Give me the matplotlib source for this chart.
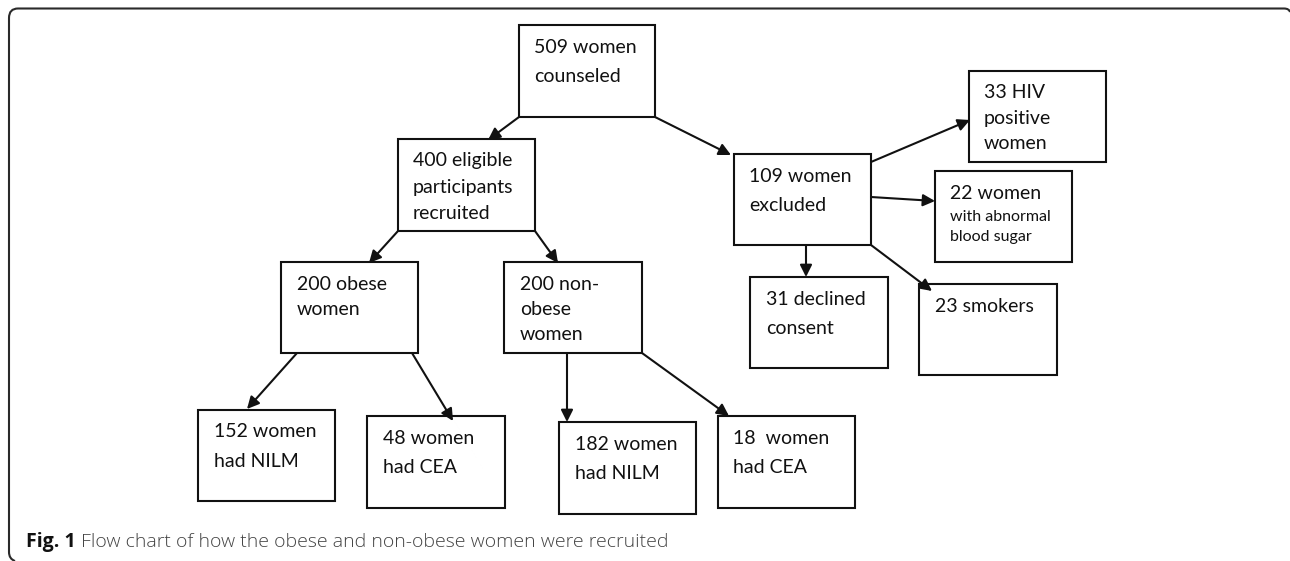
import matplotlib
matplotlib.use("Agg")
import matplotlib.pyplot as plt
from matplotlib.patches import Rectangle, PathPatch
from matplotlib.path import Path

# ---- data (flow chart content) ----
box_names = ["counseled", "eligible", "excluded", "hiv", "sugar", "obese", "nonobese",
             "declined", "smokers", "obese_nilm", "obese_cea", "nonobese_nilm", "nonobese_cea"]
box_counts = [509, 400, 109, 33, 22, 200, 200, 31, 23, 152, 48, 182, 18]
box_lines = [
    ["509 women", "counseled"],
    ["400 eligible", "participants", "recruited"],
    ["109 women", "excluded"],
    ["33 HIV", "positive", "women"],
    ["22 women", "with abnormal", "blood sugar"],
    ["200 obese", "women"],
    ["200 non-", "obese", "women"],
    ["31 declined", "consent"],
    ["23 smokers"],
    ["152 women", "had NILM"],
    ["48 women", "had CEA"],
    ["182 women", "had NILM"],
    ["18  women", "had CEA"],
]
edges = [("counseled", "eligible"), ("counseled", "excluded"), ("eligible", "obese"),
         ("eligible", "nonobese"), ("excluded", "hiv"), ("excluded", "sugar"),
         ("excluded", "declined"), ("excluded", "smokers"), ("obese", "obese_nilm"),
         ("obese", "obese_cea"), ("nonobese", "nonobese_nilm"), ("nonobese", "nonobese_cea")]
caption_bold = "Fig. 1"
caption_text = "Flow chart of how the obese and non-obese women were recruited"

# ---- layout (pixel coordinates) ----
box_rect = {  # x0, y0, x1, y1
    "counseled": (519, 25, 655, 117),
    "eligible": (398, 139, 535, 231),
    "excluded": (734, 154, 871, 245),
    "hiv": (969, 71, 1106, 162),
    "sugar": (935, 171, 1072, 262),
    "obese": (281, 262, 418, 353),
    "nonobese": (504, 262, 642, 353),
    "declined": (750, 277, 888, 368),
    "smokers": (919, 284, 1057, 375),
    "obese_nilm": (198, 410, 335, 501),
    "obese_cea": (367, 416, 505, 508),
    "nonobese_nilm": (559, 422, 696, 514),
    "nonobese_cea": (718, 416, 855, 508),
}
text_pos = {  # x, baselines
    "counseled": (534, [53, 82]),
    "eligible": (413, [166, 193, 219]),
    "excluded": (749, [182, 211]),
    "hiv": (984, [98, 124, 149]),
    "sugar": (950, [199, 221, 241]),
    "obese": (297, [290, 315]),
    "nonobese": (520, [290, 315, 340]),
    "declined": (766, [305, 334]),
    "smokers": (935, [312]),
    "obese_nilm": (214, [437, 467]),
    "obese_cea": (383, [444, 473]),
    "nonobese_nilm": (575, [450, 479]),
    "nonobese_cea": (733, [444, 473]),
}
arrow_xy = {  # start, end
    ("counseled", "eligible"): ((519, 117), (488, 140)),
    ("counseled", "excluded"): ((655, 117), (731, 155)),
    ("eligible", "obese"): ((398, 231), (369, 263)),
    ("eligible", "nonobese"): ((535, 231), (558, 263)),
    ("excluded", "hiv"): ((871, 162), (970, 120)),
    ("excluded", "sugar"): ((871, 197), (935, 201)),
    ("excluded", "declined"): ((806, 245), (806, 277)),
    ("excluded", "smokers"): ((871, 245), (932, 291)),
    ("obese", "obese_nilm"): ((297, 353), (247, 409)),
    ("obese", "obese_cea"): ((412, 353), (453, 421)),
    ("nonobese", "nonobese_nilm"): ((567, 353), (567, 422)),
    ("nonobese", "nonobese_cea"): ((642, 353), (729, 416)),
}

W, H = 1290, 561
fig = plt.figure(figsize=(W / 100, H / 100), dpi=100)
ax = fig.add_axes([0, 0, 1, 1])
ax.set_xlim(0, W)
ax.set_ylim(H, 0)
ax.axis("off")

# outer frame: top edge + left edge with rounded corners (open on right/bottom)
verts = [(15, 561), (9, 559), (9, 552), (9, 18), (9, 8.5), (18, 8.5),
         (1284, 8.5), (1289, 8.5), (1290, 12)]
codes = [Path.MOVETO, Path.CURVE3, Path.CURVE3, Path.LINETO, Path.CURVE3, Path.CURVE3,
         Path.LINETO, Path.CURVE3, Path.CURVE3]
ax.add_patch(PathPatch(Path(verts, codes), fill=False, ec="#2a2a2a", lw=1.5))

FONT = "Lato"
for name, lines, cnt in zip(box_names, box_lines, box_counts):
    x0, y0, x1, y1 = box_rect[name]
    ax.add_patch(Rectangle((x0, y0), x1 - x0, y1 - y0, fill=False, ec="#111111", lw=1.5))
    tx, bls = text_pos[name]
    for i, (ln, bl) in enumerate(zip(lines, bls)):
        size = 14
        if name == "sugar" and i > 0:
            size = 11.5
        ax.text(tx, bl, ln, fontsize=size, family=FONT, va="baseline", ha="left", color="#111111")

for e in edges:
    (sx, sy), (ex, ey) = arrow_xy[e]
    ax.annotate("", xy=(ex, ey), xytext=(sx, sy),
                arrowprops=dict(arrowstyle="-|>", mutation_scale=18, lw=1.5, color="#111111",
                                shrinkA=0, shrinkB=0))

t = ax.text(26, 547, caption_bold, fontsize=14, family="Open Sans", weight="bold",
            va="baseline", ha="left", color="#111111")
fig.canvas.draw()
bb = t.get_window_extent()
inv = ax.transData.inverted()
xend = inv.transform((bb.x1, bb.y0))[0]
ax.text(xend + 5, 547, caption_text, fontsize=14, family="Open Sans", weight="light",
        va="baseline", ha="left", color="#444444")

fig.savefig("out.png", dpi=100)
